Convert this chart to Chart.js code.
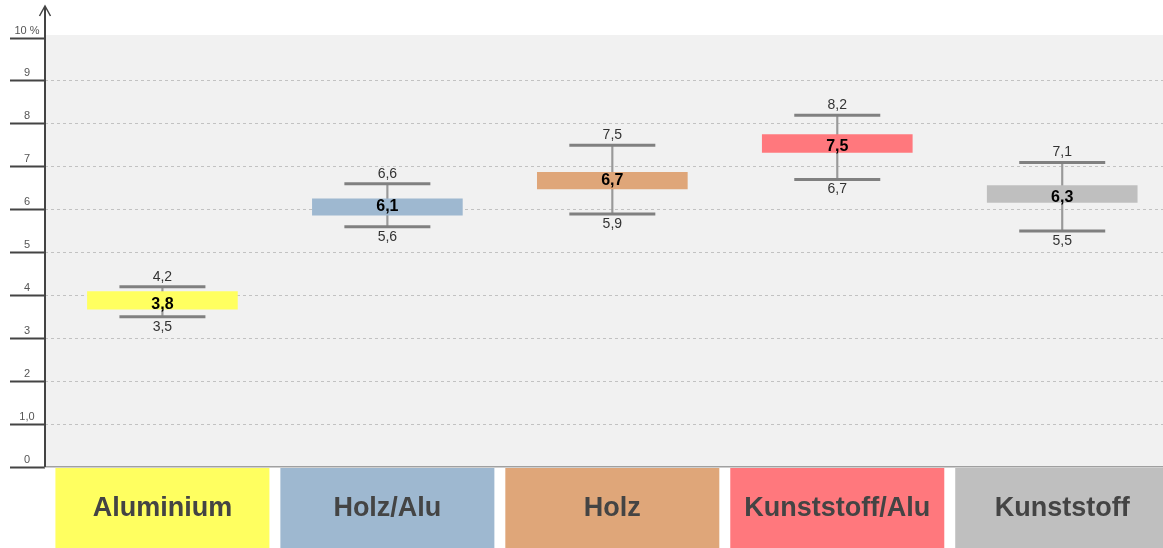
<!DOCTYPE html>
<html>
<head>
<meta charset="utf-8">
<script src="https://cdn.jsdelivr.net/npm/chart.js@4"></script>
<style>
  html, body { margin: 0; padding: 0; background: #fff; }
  canvas { display: block; }
</style>
</head>
<body>
<canvas id="chart" width="1163" height="548"></canvas>
<script>
// Daten
const categories = ['Aluminium', 'Holz/Alu', 'Holz', 'Kunststoff/Alu', 'Kunststoff'];
const meanValues = [3.8, 6.1, 6.7, 7.5, 6.3];
const minValues = [3.5, 5.6, 5.9, 6.7, 5.5];
const maxValues = [4.2, 6.6, 7.5, 8.2, 7.1];
// Balken um den Mittelwert
const barLow = [3.68, 5.87, 6.48, 7.33, 6.17];
const barHigh = [4.09, 6.25, 6.87, 7.75, 6.56];
const yTickLabels = ['0', '1,0', '2', '3', '4', '5', '6', '7', '8', '9', '10 %'];

const colors = ['#ffff60', '#9eb8d0', '#dfa679', '#ff787d', '#bfbfbf'];
const FONT = '"Liberation Sans", Arial, sans-serif';

const fmt = (v) => v.toFixed(1).replace('.', ',');
const xs = categories.map((_, i) => i + 1);

// Hintergrund, Achse, Beschriftungen
const decorPlugin = {
  id: 'decor',
  beforeDraw(chart) {
    const { ctx, chartArea: a } = chart;
    ctx.save();
    ctx.fillStyle = '#f1f1f1';
    ctx.fillRect(a.left, a.top - 3, a.right - a.left, a.bottom - a.top + 3);
    ctx.restore();
  },
  afterDatasetsDraw(chart) {
    const { ctx } = chart;
    const xScale = chart.scales.x;
    const yScale = chart.scales.y;
    ctx.save();
    ctx.textAlign = 'center';
    ctx.textBaseline = 'middle';
    xs.forEach((xv, i) => {
      const px = xScale.getPixelForValue(xv);
      ctx.font = '14px ' + FONT;
      ctx.fillStyle = '#333';
      ctx.fillText(fmt(maxValues[i]), px, yScale.getPixelForValue(maxValues[i]) - 10);
      ctx.fillText(fmt(minValues[i]), px, yScale.getPixelForValue(minValues[i]) + 10);
      ctx.font = 'bold 16px ' + FONT;
      ctx.fillStyle = '#000';
      ctx.fillText(fmt(meanValues[i]), px, yScale.getPixelForValue(meanValues[i]) + 1);
    });
    ctx.restore();
  },
  afterDraw(chart) {
    const { ctx, chartArea: a } = chart;
    const xScale = chart.scales.x;
    const yScale = chart.scales.y;
    ctx.save();

    // y-Achse mit Pfeil
    ctx.strokeStyle = '#444';
    ctx.lineWidth = 2;
    ctx.beginPath();
    ctx.moveTo(a.left, a.bottom);
    ctx.lineTo(a.left, a.top - 31);
    ctx.stroke();
    ctx.lineWidth = 1.5;
    ctx.beginPath();
    ctx.moveTo(a.left - 5.5, a.top - 22);
    ctx.lineTo(a.left, a.top - 32);
    ctx.lineTo(a.left + 5.5, a.top - 22);
    ctx.stroke();

    // Tick-Beschriftungen
    ctx.font = '11px ' + FONT;
    ctx.fillStyle = '#555';
    ctx.textAlign = 'center';
    ctx.textBaseline = 'middle';
    yScale.ticks.forEach((t) => {
      const label = yTickLabels[Math.round(t.value)];
      if (label === undefined) return;
      ctx.fillText(label, 27, yScale.getPixelForValue(t.value) - 7.5);
    });

    // Kategorien-Kästen
    const boxTop = a.bottom + 1;
    const boxH = chart.height - boxTop;
    categories.forEach((name, i) => {
      const px = xScale.getPixelForValue(xs[i]);
      ctx.fillStyle = colors[i];
      ctx.fillRect(px - 107, boxTop, 214, boxH);
      ctx.font = 'bold 27px ' + FONT;
      ctx.fillStyle = '#444';
      ctx.fillText(name, px, boxTop + boxH / 2 + 1);
    });
    ctx.restore();
  },
};

const ctx = document.getElementById('chart').getContext('2d');
new Chart(ctx, {
  type: 'bar',
  data: {
    datasets: [
      {
        label: 'Spanne',
        data: xs.map((x, i) => ({ x, y: [minValues[i], maxValues[i]] })),
        backgroundColor: '#999',
        barThickness: 1.5,
        grouped: false,
        order: 2,
      },
      {
        label: 'Mittelwert',
        data: xs.map((x, i) => ({ x, y: [barLow[i], barHigh[i]] })),
        backgroundColor: colors,
        borderWidth: 0,
        barThickness: 150,
        grouped: false,
        order: 1,
      },
      {
        type: 'line',
        label: 'Max',
        data: xs.map((x, i) => ({ x, y: maxValues[i] })),
        showLine: false,
        pointStyle: 'line',
        pointRadius: 43,
        pointBorderWidth: 3,
        pointBorderColor: '#808080',
        order: 0,
      },
      {
        type: 'line',
        label: 'Min',
        data: xs.map((x, i) => ({ x, y: minValues[i] })),
        showLine: false,
        pointStyle: 'line',
        pointRadius: 43,
        pointBorderWidth: 3,
        pointBorderColor: '#808080',
        order: 0,
      },
    ],
  },
  options: {
    responsive: false,
    animation: false,
    events: [],
    layout: { autoPadding: false, padding: { top: 38, left: 0, right: 0, bottom: 0 } },
    plugins: {
      legend: { display: false },
      tooltip: { enabled: false },
    },
    scales: {
      x: {
        type: 'linear',
        min: 0.478,
        max: 5.448,
        offset: false,
        grid: { display: false },
        ticks: { display: false },
        border: { display: true, color: '#a0a0a0', width: 1.5 },
        afterFit: (scale) => {
          scale.height = 81;
        },
      },
      y: {
        type: 'linear',
        min: 0,
        max: 10,
        ticks: { display: false, stepSize: 1 },
        grid: {
          color: (c) => (c.tick && (c.tick.value === 0 || c.tick.value === 10) ? 'rgba(0,0,0,0)' : '#c2c2c2'),
          lineWidth: 1,
          drawTicks: true,
          tickLength: 35,
          tickColor: '#444',
          tickWidth: 2,
          tickBorderDash: [],
        },
        border: { display: false, dash: [3, 3] },
        afterFit: (scale) => {
          scale.width = 45;
        },
      },
    },
  },
  plugins: [decorPlugin],
});
</script>
</body>
</html>
